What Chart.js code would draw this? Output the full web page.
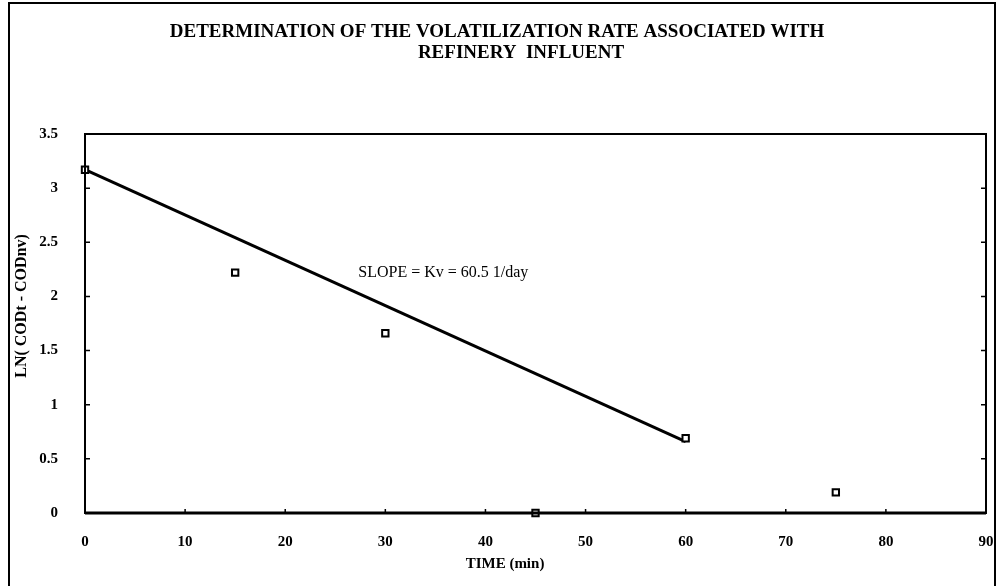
<!DOCTYPE html>
<html>
<head>
<meta charset="utf-8">
<script src="https://cdn.jsdelivr.net/npm/chart.js@4"></script>
<style>
  html, body { margin: 0; padding: 0; background: #fff; }
  #wrap { width: 998px; height: 586px; }
</style>
</head>
<body>
<div id="wrap"><canvas id="chart-volatilization" width="998" height="586"></canvas></div>
<script>
const timeMin = [0, 15, 30, 45, 60, 75];
const lnCod = [3.17, 2.22, 1.66, 0.0, 0.69, 0.19];
const fitTime = [0, 60];
const fitLn = [3.17, 0.66];
const xTickValues = [0, 10, 20, 30, 40, 50, 60, 70, 80, 90];
const yTickValues = [0, 0.5, 1, 1.5, 2, 2.5, 3, 3.5];
const titleLines = ['DETERMINATION OF THE VOLATILIZATION RATE ASSOCIATED WITH', 'REFINERY  INFLUENT'];
const xTitle = 'TIME (min)';
const yTitle = 'LN( CODt - CODnv)';
const slopeNote = 'SLOPE = Kv = 60.5 1/day';
const slopeAt = { x: 27.3, y: 2.216 };

const serif = '"Liberation Serif", "Times New Roman", serif';

const toPoints = (xs, ys) => xs.map((x, i) => ({ x: x, y: ys[i] }));

// frame, titles, plot box, inward ticks, slope note
const decorations = {
  id: 'decorations',
  afterDraw(chart) {
    const ctx = chart.ctx;
    const area = chart.chartArea;
    const xs = chart.scales.x;
    const ys = chart.scales.y;
    ctx.save();
    ctx.strokeStyle = '#000';
    ctx.fillStyle = '#000';

    // outer frame
    ctx.lineWidth = 2;
    ctx.beginPath();
    ctx.moveTo(9, 586);
    ctx.lineTo(9, 3);
    ctx.lineTo(995, 3);
    ctx.lineTo(995, 586);
    ctx.stroke();

    // chart title
    ctx.font = 'bold 19px ' + serif;
    ctx.textAlign = 'center';
    ctx.textBaseline = 'middle';
    ctx.fillText(titleLines[0], 497, 32);
    ctx.fillText(titleLines[1], 521, 53);

    // axis titles
    ctx.font = 'bold 15px ' + serif;
    ctx.fillText(xTitle, 505, 564);
    ctx.save();
    ctx.translate(22, 306);
    ctx.rotate(-Math.PI / 2);
    ctx.font = 'bold 16px ' + serif;
    ctx.fillText(yTitle, 0, 0);
    ctx.restore();

    // plot box
    ctx.lineWidth = 2;
    ctx.strokeRect(area.left, area.top, area.right - area.left, area.bottom - area.top);
    ctx.lineWidth = 3;
    ctx.beginPath();
    ctx.moveTo(area.left, area.bottom);
    ctx.lineTo(area.right, area.bottom);
    ctx.stroke();

    // inward tick marks
    ctx.lineWidth = 1.5;
    ctx.beginPath();
    yTickValues.forEach(v => {
      const py = ys.getPixelForValue(v);
      ctx.moveTo(area.left, py);
      ctx.lineTo(area.left + 5, py);
      ctx.moveTo(area.right, py);
      ctx.lineTo(area.right - 5, py);
    });
    xTickValues.forEach(v => {
      const px = xs.getPixelForValue(v);
      ctx.moveTo(px, area.bottom);
      ctx.lineTo(px, area.bottom - 4);
    });
    ctx.stroke();

    // slope note
    ctx.font = '16px ' + serif;
    ctx.textAlign = 'left';
    ctx.fillText(slopeNote, xs.getPixelForValue(slopeAt.x), ys.getPixelForValue(slopeAt.y));
    ctx.restore();
  }
};

const data = {
  datasets: [
    {
      label: 'fit',
      data: toPoints(fitTime, fitLn),
      showLine: true,
      borderColor: '#000',
      borderWidth: 3,
      pointRadius: 0,
      order: 2
    },
    {
      label: 'measured',
      data: toPoints(timeMin, lnCod),
      showLine: false,
      pointStyle: 'rect',
      pointRadius: 4.5,
      pointBorderWidth: 2,
      pointBorderColor: '#000',
      pointBackgroundColor: '#fff',
      order: 1
    }
  ]
};

const configuration = {
  type: 'scatter',
  data: data,
  options: {
    responsive: false,
    animation: false,
    clip: false,
    layout: { padding: { left: 10, right: 12, top: 134, bottom: 0 } },
    plugins: {
      legend: { display: false },
      title: { display: false },
      tooltip: { enabled: false }
    },
    scales: {
      x: {
        type: 'linear',
        min: 0,
        max: 90,
        afterBuildTicks: s => { s.ticks = xTickValues.map(v => ({ value: v })); },
        afterFit: s => { s.height = 73; s.paddingLeft = 0; s.paddingRight = 0; },
        grid: { display: false },
        border: { display: false },
        ticks: {
          color: '#000',
          padding: 12,
          maxRotation: 0,
          font: { family: serif, size: 15, weight: 'bold' }
        }
      },
      y: {
        type: 'linear',
        min: 0,
        max: 3.5,
        afterBuildTicks: s => { s.ticks = yTickValues.map(v => ({ value: v })); },
        afterFit: s => { s.width = 75; s.paddingTop = 0; s.paddingBottom = 0; },
        grid: { display: false },
        border: { display: false },
        ticks: {
          color: '#000',
          padding: 19,
          callback: v => String(v),
          font: { family: serif, size: 15, weight: 'bold' }
        }
      }
    }
  },
  plugins: [decorations]
};

new Chart(document.getElementById('chart-volatilization'), configuration);
</script>
</body>
</html>
